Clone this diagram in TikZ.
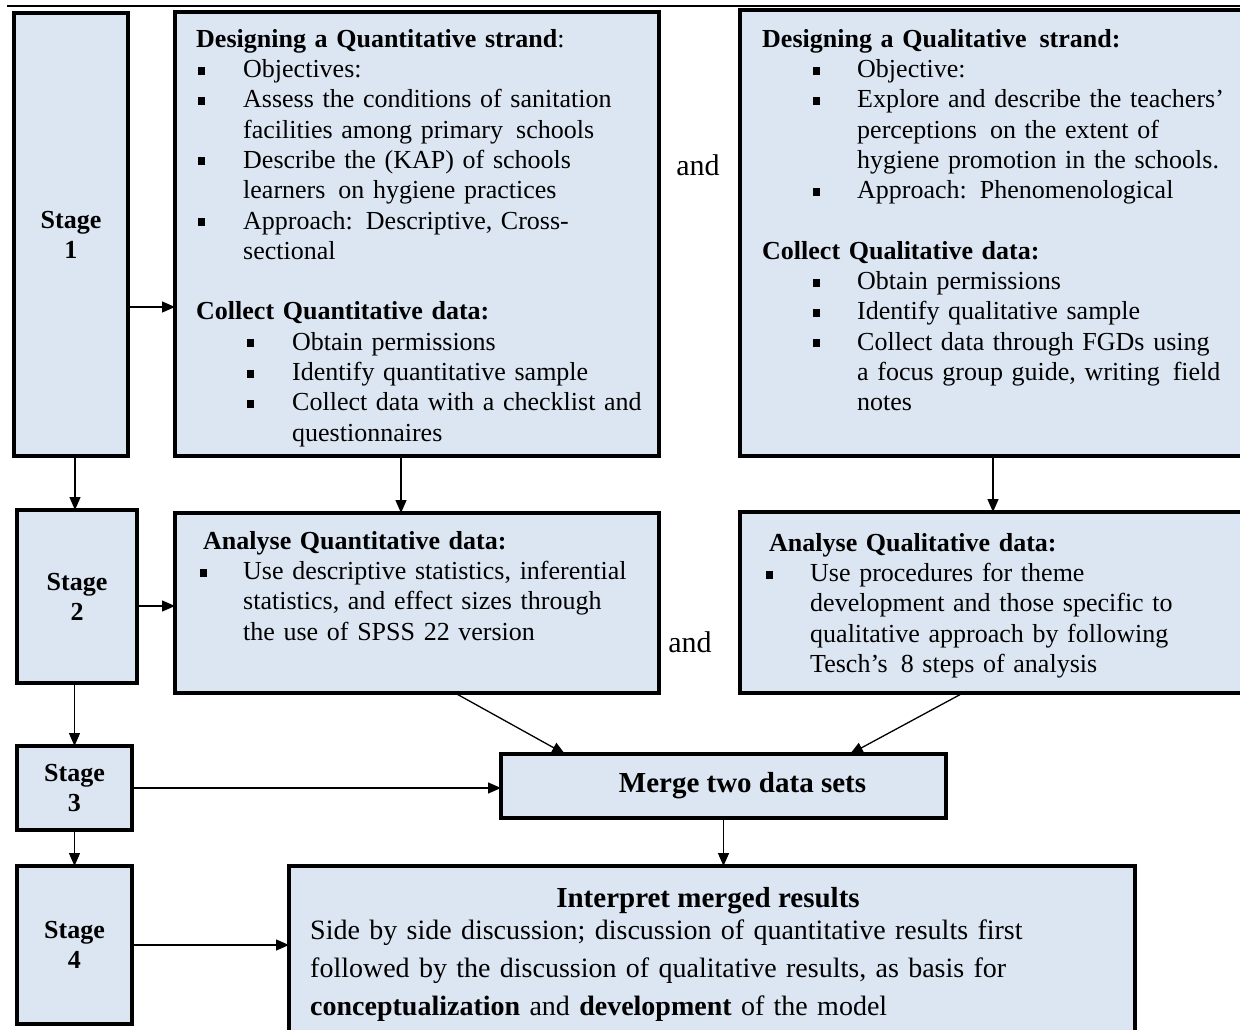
\documentclass[tikz,border=0pt]{standalone}
\usepackage{fontspec}
\setmainfont{Liberation Serif}
\usetikzlibrary{arrows.meta,calc,positioning}
\definecolor{boxblue}{HTML}{DCE6F2}
\setlength{\parindent}{0pt}
\newcommand{\sqb}{\rule[3pt]{7pt}{8pt}}
% bullet item: #1 bullet offset, #2 text offset, #3 text
\newcommand{\bitem}[3]{\par\hangindent=#2\hangafter=1\noindent\makebox[#2][l]{\hspace*{#1}\sqb}#3\par}
\newcommand{\gap}{\par\vspace{30.3pt}\noindent}

\begin{document}
\begin{tikzpicture}[x=1pt,y=-1pt,>=Stealth,
  box/.style={draw,line width=3.2pt,fill=boxblue,inner sep=0pt,outer sep=0pt},
  stagebox/.style={box,align=center,font=\fontsize{26}{30}\selectfont\bfseries},
  txt/.style={anchor=north west,inner sep=0pt,align=left,text width=480pt,
    font=\fontsize{26}{30.3}\selectfont},
  conn/.style={-{Triangle[length=13pt,width=11pt]},line width=1.3pt}]
  \clip (0,0) rectangle (1240,1029);
  % Rule at the top
  \draw[line width=1.5pt] (7,6) -- (1240,6);
  % Stage boxes
  \node[stagebox,minimum width=114pt,minimum height=443pt] (s1) at (71,234.5) {Stage\\1};
  \node[stagebox,minimum width=120pt,minimum height=173pt] (s2) at (77,596.5) {Stage\\2};
  \node[stagebox,minimum width=115pt,minimum height=84pt] (s3) at (74.5,788) {Stage\\3};
  \node[stagebox,minimum width=115pt,minimum height=158pt] (s4) at (74.5,945) {Stage\\4};
  % Content boxes
  \node[box,minimum width=484pt,minimum height=444pt] (qndesign) at (417,234) {};
  \node[box,minimum width=512pt,minimum height=446pt] (qldesign) at (996,233) {};
  \node[box,minimum width=484pt,minimum height=180pt] (qnanalyse) at (417,603) {};
  \node[box,minimum width=512pt,minimum height=181pt] (qlanalyse) at (996,602.5) {};
  \node[box,minimum width=445pt,minimum height=64pt,
    font=\fontsize{29}{32}\selectfont\bfseries] (merge) at (723.5,786) {\hspace*{38pt}Merge two data sets};
  \node[box,minimum width=846pt,minimum height=179pt] (interp) at (712,955.5) {};
  % Texts in the boxes
  \node[txt] (qndesign-t) at (196,29) {\textbf{Designing a Quantitative strand}:
    \bitem{2pt}{47pt}{Objectives:}
    \bitem{2pt}{47pt}{Assess the conditions of sanitation\newline facilities among primary\, schools}
    \bitem{2pt}{47pt}{Describe the (KAP) of schools\newline learners\, on hygiene practices}
    \bitem{2pt}{47pt}{Approach: Descriptive, Cross-\newline sectional}
    \gap\textbf{Collect Quantitative data:}
    \bitem{51pt}{96pt}{Obtain permissions}
    \bitem{51pt}{96pt}{Identify quantitative sample}
    \bitem{51pt}{96pt}{Collect data with a checklist and\newline questionnaires}};
  \node[txt] (qldesign-t) at (762,29) {\textbf{Designing a Qualitative\, strand:}
    \bitem{51pt}{95pt}{Objective:}
    \bitem{51pt}{95pt}{Explore and describe the teachers'\newline perceptions\, on the extent of\newline hygiene promotion in the schools.}
    \bitem{51pt}{95pt}{Approach: Phenomenological}
    \gap\textbf{Collect Qualitative data:}
    \bitem{51pt}{95pt}{Obtain permissions}
    \bitem{51pt}{95pt}{Identify qualitative sample}
    \bitem{51pt}{95pt}{Collect data through FGDs using\newline a focus group guide, writing\, field\newline notes}};
  \node[txt] (qnanalyse-t) at (200,531) {\hspace*{3pt}\textbf{Analyse Quantitative data:}
    \bitem{0pt}{43pt}{Use descriptive statistics, inferential\newline statistics, and effect sizes through\newline the use of SPSS 22 version}};
  \node[txt] (qlanalyse-t) at (766,533) {\hspace*{3pt}\textbf{Analyse Qualitative data:}
    \bitem{0pt}{44pt}{Use procedures for theme\newline development and those specific to\newline qualitative approach by following\newline Tesch's\, 8 steps of analysis}};
  \node[font=\fontsize{29}{32}\selectfont\bfseries,inner sep=0pt] (interp-h) at (708,901) {Interpret merged results};
  \node[txt,text width=800pt,font=\fontsize{28}{38}\selectfont] (interp-t) at (310,920)
    {Side by side discussion; discussion of quantitative results first\newline
     followed by the discussion of qualitative results, as basis for\newline
     \textbf{conceptualization} and \textbf{development} of the model};
  % The two "and"
  \node[font=\fontsize{30}{32}\selectfont,inner sep=0pt] (and1) at (698,165) {and};
  \node[font=\fontsize{30}{32}\selectfont,inner sep=0pt] (and2) at (690,642) {and};
  % Stage to stage
  \draw[conn] ([xshift=4pt]s1.south) -- ([xshift=4pt]s1.south |- s2.north);
  \draw[conn] (s3.north |- s2.south) -- (s3.north);
  \draw[conn] (s3.south) -- (s4.north);
  % Stage to content
  \draw[conn] ([yshift=-72.5pt]s1.east) -- ([yshift=-72.5pt]s1.east -| qndesign.west);
  \draw[conn] ([yshift=-9.5pt]s2.east) -- ([yshift=-9.5pt]s2.east -| qnanalyse.west);
  \draw[conn] (s3.east) -- (s3.east -| merge.west);
  \draw[conn] (s4.east) -- (s4.east -| interp.west);
  % Content to content
  \draw[conn] ([xshift=-16pt]qndesign.south) -- ([xshift=-16pt]qndesign.south |- qnanalyse.north);
  \draw[conn] ([xshift=-3pt]qldesign.south) -- ([xshift=-3pt]qldesign.south |- qlanalyse.north);
  \draw[conn] ([xshift=280pt]qnanalyse.south west) -- ([xshift=64pt]merge.north west);
  \draw[conn] ([xshift=223pt]qlanalyse.south west) -- ([xshift=-96pt]merge.north east);
  \draw[conn] (merge.south) -- (merge.south |- interp.north);
\end{tikzpicture}
\end{document}
